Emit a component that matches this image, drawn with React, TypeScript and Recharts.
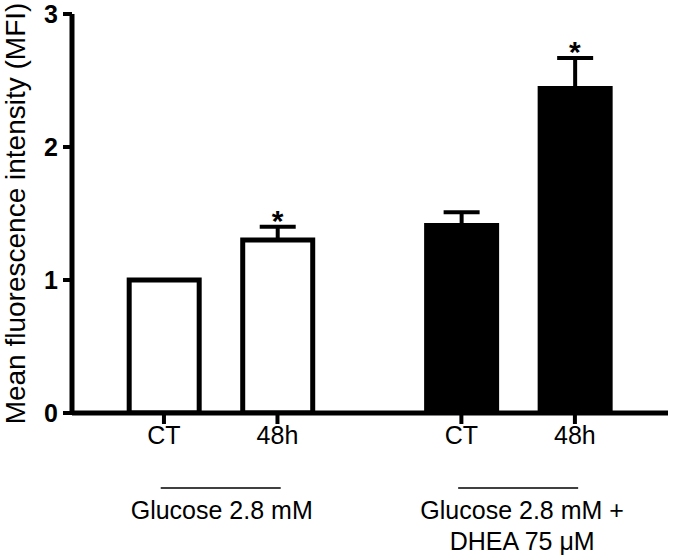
import React from 'react';
import {
  ComposedChart,
  Bar,
  Cell,
  ErrorBar,
  Scatter,
  XAxis,
  YAxis,
} from 'recharts';

// bar labels and their group
const categories = ['CT', '48h', 'CT', '48h'];
const groupOf = [0, 0, 1, 1];
const groups = ['Glucose 2.8 mM', 'Glucose 2.8 mM +\nDHEA 75 μM'];

// mean and upper error (MFI)
const means = [1.0, 1.3, 1.41, 2.44];
const errors = [0, 0.1, 0.1, 0.23];
const significant = [false, true, false, true];

const yTicks = [0, 1, 2, 3];

const FONT = '"Liberation Sans", Arial, Helvetica, sans-serif';
const GROUP_GAP = 0.62; // extra room between the two groups, in bar slots
const groupFills = ['#ffffff', '#000000'];

const data = categories.map((name, i) => ({
  name,
  pos: 1 + groupOf[i] * GROUP_GAP + i,
  mean: means[i],
  err: [0, errors[i]],
  star: significant[i] ? means[i] + errors[i] : null,
  group: groupOf[i],
}));

const groupCenters = groups.map((_, g) => {
  const members = data.filter(d => d.group === g);
  return members.reduce((s, d) => s + d.pos, 0) / members.length;
});

const X_DOMAIN: [number, number] = [0.19, 5.44];

const CategoryTick = (props: any) => {
  const { x, y, payload } = props;
  const item = data.find(d => Math.abs(d.pos - payload.value) < 1e-6);
  return (
    <text x={x} y={y + 18} textAnchor="middle" fontSize={25} fontFamily={FONT} fill="#000">
      {item ? item.name : ''}
    </text>
  );
};

const GroupTick = (props: any) => {
  const { x, y, payload } = props;
  const idx = groupCenters.findIndex(c => Math.abs(c - payload.value) < 1e-6);
  if (idx < 0) return null;
  const lines = groups[idx].split('\n');
  return (
    <g>
      <line x1={x - 60} x2={x + 60} y1={y + 13} y2={y + 13} stroke="#000" strokeWidth={1.5} />
      {lines.map((ln, i) => (
        <text
          key={i}
          x={x + (idx === 1 ? 4 : 1)}
          y={y + 44 + i * 31}
          textAnchor="middle"
          fontSize={25}
          fontFamily={FONT}
          fill="#000"
        >
          {ln}
        </text>
      ))}
    </g>
  );
};

const Star = (props: any) => {
  const { cx, cy, payload } = props;
  if (payload == null || payload.star == null || !isFinite(cy)) return null;
  return (
    <text x={cx} y={cy + 4} textAnchor="middle" fontSize={30} fontWeight={700} fontFamily={FONT} fill="#000">
      *
    </text>
  );
};

const YLabel = (props: any) => {
  const vb = props.viewBox || { x: 0, y: 14, width: 72, height: 399 };
  const cy = vb.y + vb.height / 2;
  const x = 25;
  return (
    <text
      x={x}
      y={cy}
      transform={`rotate(-90 ${x} ${cy})`}
      textAnchor="middle"
      fontSize={28}
      fontFamily={FONT}
      fill="#000"
    >
      Mean fluorescence intensity (MFI)
    </text>
  );
};

export default function App() {
  return (
    <div style={{ position: 'absolute', left: 0, top: 0, background: '#fff' }}>
      <ComposedChart
        width={674}
        height={557}
        data={data}
        margin={{ top: 14, right: 6, bottom: 0, left: 0 }}
      >
        <XAxis
          xAxisId={0}
          dataKey="pos"
          type="number"
          domain={X_DOMAIN}
          allowDataOverflow
          ticks={data.map(d => d.pos)}
          tick={<CategoryTick />}
          axisLine={{ stroke: '#000', strokeWidth: 5 }}
          tickLine={{ stroke: '#000', strokeWidth: 4 }}
          tickSize={11}
          height={60}
        />
        <XAxis
          xAxisId={1}
          dataKey="pos"
          type="number"
          domain={X_DOMAIN}
          allowDataOverflow
          ticks={groupCenters}
          tick={<GroupTick />}
          axisLine={false}
          tickLine={false}
          tickSize={0}
          height={84}
        />
        <YAxis
          type="number"
          domain={[0, 3]}
          ticks={yTicks}
          allowDataOverflow
          width={72}
          axisLine={{ stroke: '#000', strokeWidth: 5 }}
          tickLine={{ stroke: '#000', strokeWidth: 4 }}
          tickSize={9}
          tickMargin={5}
          tick={{ fontSize: 25, fontWeight: 700, fill: '#000', fontFamily: FONT }}
          label={<YLabel />}
        />
        <Bar
          xAxisId={0}
          dataKey="mean"
          barSize={70}
          stroke="#000"
          strokeWidth={5}
          isAnimationActive={false}
        >
          {data.map((d, i) => (
            <Cell key={`cell-${i}`} fill={groupFills[d.group]} />
          ))}
          <ErrorBar
            dataKey="err"
            direction="y"
            width={18}
            stroke="#000"
            strokeWidth={4}
            isAnimationActive={false}
          />
        </Bar>
        <Scatter
          xAxisId={0}
          dataKey="star"
          shape={<Star />}
          isAnimationActive={false}
        />
      </ComposedChart>
    </div>
  );
}
